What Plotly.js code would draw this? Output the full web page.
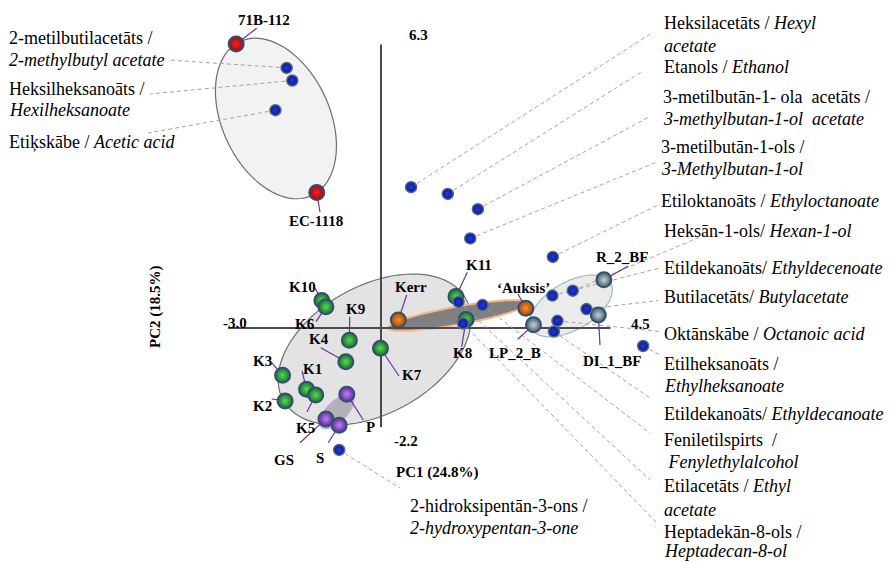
<!DOCTYPE html>
<html>
<head>
<meta charset="utf-8">
<script src="https://cdn.plot.ly/plotly-3.0.1.min.js"></script>
<style>
  html, body { margin: 0; padding: 0; background: #fff; }
  #chart { width: 891px; height: 563px; }
</style>
</head>
<body>
<div id="chart"></div>
<script>
// ---- Volatile compound loadings (PC1, PC2) ----
const compoundLabels = [
  ["2-metilbutilacetāts /", "<i>2-methylbutyl acetate</i>"],
  ["Heksilheksanoāts /", "<i>Hexilheksanoate</i>"],
  ["Etiķskābe / <i>Acetic acid</i>"],
  ["Heksilacetāts / <i>Hexyl</i>", "<i>acetate</i>"],
  ["Etanols / <i>Ethanol</i>"],
  ["3-metilbutān-1- ola  acetāts /", "<i>3-methylbutan-1-ol  acetate</i>"],
  ["3-metilbutān-1-ols /", "<i>3-Methylbutan-1-ol</i>"],
  ["Etiloktanoāts / <i>Ethyloctanoate</i>"],
  ["Heksān-1-ols/ <i>Hexan-1-ol</i>"],
  ["Etildekanoāts/ <i>Ethyldecenoate</i>"],
  ["Butilacetāts/ <i>Butylacetate</i>"],
  ["Oktānskābe / <i>Octanoic acid</i>"],
  ["Etilheksanoāts /", "<i>Ethylheksanoate</i>"],
  ["Etildekanoāts/ <i>Ethyldecanoate</i>"],
  ["Feniletilspirts  /", " <i>Fenylethylalcohol</i>"],
  ["Etilacetāts / <i>Ethyl</i>", "<i>acetate</i>"],
  ["Heptadekān-8-ols /", "<i>Heptadecan-8-ol</i>"],
  ["2-hidroksipentān-3-ons /", "<i>2-hydroxypentan-3-one</i>"]
];
const compoundPC1 = [-1.85, -1.74, -2.07, 0.59, 1.31, 1.90, 1.75, 3.37, 3.76, 3.36, 4.03, 3.46, 5.14, 3.39, 1.99, 1.52, 1.61, -0.82];
const compoundPC2 = [ 5.78,  5.50,  4.84, 3.13, 2.98, 2.64, 1.99, 1.58, 0.83, 0.72, 0.42, 0.16, -0.40, -0.08, 0.51, 0.58, 0.10, -2.71];

// ---- Wine samples (scores) ----
const sampleNames  = ["71B-112", "EC-1118", "K10", "K6", "K9", "K4", "K7", "K3", "K1", "K2", "K5", "K11", "K8", "Kerr", "‘Auksis’", "R_2_BF", "DI_1_BF", "LP_2_B", "P", "GS", "S"];
const samplePC1    = [-2.84, -1.26, -1.16, -1.08, -0.62, -0.69, -0.01, -1.93, -1.46, -1.88, -1.28, 1.47, 1.67, 0.34, 2.84, 4.37, 4.26, 2.99, -0.67, -1.08, -0.82];
const samplePC2    = [ 6.31,  3.01,  0.61,  0.47, -0.27, -0.75, -0.45, -1.05, -1.36, -1.62, -1.49, 0.70, 0.19, 0.18, 0.44, 1.07, 0.29, 0.07, -1.47, -2.02, -2.16];
const sampleGroups = ["yeast", "yeast", "K", "K", "K", "K", "K", "K", "K", "K", "K", "K", "K", "ref", "ref", "bf", "bf", "bf", "pgs", "pgs", "pgs"];

const explainedVariance = [24.8, 18.5];
const pc1Extent = [-3.0, 4.5];
const pc2Extent = [-2.2, 6.3];

// ---- page geometry: pixel frame used to place text ----
const FRAME = { w: 891, h: 563, ox: 381, oy: 328, sx: 51, sy: 45 };
const xAt = p => (p - FRAME.ox) / FRAME.sx;
const yAt = p => (FRAME.oy - p) / FRAME.sy;

// label placement for compounds: left edge, line centres, end of dashed leader (pixels)
const compoundLabelPlace = [
  { x: 8,   ys: [38, 60],       end: [168, 60] },
  { x: 8,   ys: [89, 110],      end: [150, 94] },
  { x: 8,   ys: [142],          end: [148, 133] },
  { x: 663, ys: [23, 45.5],     end: [652, 33] },
  { x: 663, ys: [67],           end: [643, 71] },
  { x: 662, ys: [97, 119],      end: [650, 116.5] },
  { x: 660, ys: [147, 169],     end: [658, 161.5] },
  { x: 660, ys: [201],          end: [658, 205] },
  { x: 663, ys: [230.5],        end: [700, 237] },
  { x: 663, ys: [267.5],        end: [660, 268] },
  { x: 663, ys: [297],          end: [658, 300.5] },
  { x: 663, ys: [334],          end: [660, 331.5] },
  { x: 663, ys: [363.5, 385.5], end: [662, 356] },
  { x: 663, ys: [413.5],        end: [650, 398] },
  { x: 663, ys: [440, 462],     end: [650, 433] },
  { x: 663, ys: [485.5, 510],   end: [650, 480] },
  { x: 663, ys: [531.5, 550.5], end: [657, 523] },
  { x: 409, ys: [506, 528],     end: [400, 488] }
];

// label placement for samples: text centre and start of the purple leader (pixels)
const sampleLabelPlace = {
  "71B-112":  { at: [264, 20],  from: [256.7, 28.3] },
  "EC-1118":  { at: [316, 221], from: [320, 212] },
  "K10":      { at: [302, 287], from: [315, 288] },
  "K6":       { at: [305, 324], from: [316, 321.7] },
  "K9":       { at: [355, 309], from: [349.7, 316.7] },
  "K4":       { at: [319, 339], from: [320.7, 347.7] },
  "K7":       { at: [412, 375], from: [399, 376] },
  "K3":       { at: [262, 361], from: [271.7, 362.7] },
  "K1":       { at: [312, 369], from: [302, 371] },
  "K2":       { at: [262, 406], from: [271.7, 399] },
  "K5":       { at: [305, 428], from: [307, 411.7] },
  "K11":      { at: [479, 265], from: [467.3, 272.3] },
  "K8":       { at: [462, 353], from: [461.7, 346.7] },
  "Kerr":     { at: [411, 287], from: [406.7, 295] },
  "‘Auksis’": { at: [523, 288], from: [518, 294] },
  "R_2_BF":   { at: [622, 257], from: [628.3, 266] },
  "DI_1_BF":  { at: [612, 361], from: [600, 345] },
  "LP_2_B":   { at: [515, 353], from: [517.7, 339.3] },
  "P":        { at: [370, 427], from: [363.3, 420] },
  "GS":       { at: [284, 460], from: [300, 442.7] },
  "S":        { at: [320, 458], from: [328.3, 442.7] }
};

// sphere look: bright core (radial gradient centre) fading to a dark edge
const groupStyle = {
  yeast: { core: "#ff2020", edge: "#8a1018" },
  K:     { core: "#4ee04e", edge: "#1e6a34" },
  ref:   { core: "#ff9020", edge: "#9a4c10" },
  bf:    { core: "#c4d2d6", edge: "#44606c" },
  pgs:   { core: "#c080ff", edge: "#5c2c94" }
};

// confidence ellipses: centre plus two conjugate semi-axis vectors, in PC units
const ellipses = [
  { c: [-2.06, 4.656], u: [0.704, -1.711], v: [0.955, 0.504],  fill: "#f2f2f2", line: "#6f6f6f", w: 1.2 },
  { c: [-0.127, -0.478], u: [1.790, 1.129], v: [0.610, -1.240], fill: "#e3e3e3", line: "#6f6f6f", w: 1.2 },
  { c: [3.729, 0.491], u: [0.773, 0.513],  v: [0.235, -0.456], fill: "#ebebeb", line: "#9cbcc2", w: 1.2 },
  { c: [1.510, 0.278], u: [1.373, 0.278],  v: [0.031, -0.197], fill: "#808080", line: "#f4b88c", w: 2 },
  { c: [-0.869, -1.86], u: [0.300, 0.340], v: [0.137, -0.156], fill: "#b2b2b2", line: "#c8a2e8", w: 1.5 }
];

function ellipsePath(e) {
  let d = "";
  for (let i = 0; i <= 90; i++) {
    const t = (i / 90) * 2 * Math.PI;
    const x = e.c[0] + e.u[0] * Math.cos(t) + e.v[0] * Math.sin(t);
    const y = e.c[1] + e.u[1] * Math.cos(t) + e.v[1] * Math.sin(t);
    d += (i === 0 ? "M" : "L") + x.toFixed(4) + "," + y.toFixed(4);
  }
  return d + "Z";
}

const shapes = [];
ellipses.forEach(e => shapes.push({
  type: "path", xref: "x", yref: "y", layer: "below",
  path: ellipsePath(e), fillcolor: e.fill, line: { color: e.line, width: e.w }
}));

// principal component axes
shapes.push({ type: "line", xref: "x", yref: "y", layer: "below",
  x0: pc1Extent[0], x1: pc1Extent[1], y0: 0, y1: 0, line: { color: "#4a4a4a", width: 2 } });
shapes.push({ type: "line", xref: "x", yref: "y", layer: "below",
  x0: 0, x1: 0, y0: pc2Extent[0], y1: pc2Extent[1], line: { color: "#4a4a4a", width: 2 } });

// dashed leaders from compound points to their names
compoundPC1.forEach((x, i) => {
  const p = compoundLabelPlace[i];
  shapes.push({ type: "line", xref: "x", yref: "y", layer: "below",
    x0: x, y0: compoundPC2[i], x1: xAt(p.end[0]), y1: yAt(p.end[1]),
    line: { color: "#a4a4a4", width: 1, dash: "4px,3px" } });
});

// purple leaders from sample names to sample points
sampleNames.forEach((n, i) => {
  const p = sampleLabelPlace[n];
  shapes.push({ type: "line", xref: "x", yref: "y", layer: "below",
    x0: xAt(p.from[0]), y0: yAt(p.from[1]), x1: samplePC1[i], y1: samplePC2[i],
    line: { color: "#7030a0", width: 1.2 } });
});

const annotations = [];
const serif = "Liberation Serif, Times New Roman, serif";

compoundLabels.forEach((lines, i) => {
  const p = compoundLabelPlace[i];
  lines.forEach((txt, k) => annotations.push({
    xref: "x", yref: "y", x: xAt(p.x), y: yAt(p.ys[k]), text: txt,
    showarrow: false, xanchor: "left", yanchor: "middle", borderpad: 0,
    font: { family: serif, size: 18, color: "#000" }
  }));
});

sampleNames.forEach(n => {
  const p = sampleLabelPlace[n];
  annotations.push({
    xref: "x", yref: "y", x: xAt(p.at[0]), y: yAt(p.at[1]), text: "<b>" + n + "</b>",
    showarrow: false, xanchor: "center", yanchor: "middle", borderpad: 0,
    font: { family: serif, size: 15, color: "#000" }
  });
});

// axis extent values and axis titles
const bold15 = { family: serif, size: 15, color: "#000" };
annotations.push({ xref: "x", yref: "y", x: xAt(418), y: yAt(35), text: "<b>" + pc2Extent[1].toFixed(1) + "</b>", showarrow: false, font: bold15 });
annotations.push({ xref: "x", yref: "y", x: xAt(406), y: yAt(441), text: "<b>" + pc2Extent[0].toFixed(1) + "</b>", showarrow: false, font: bold15 });
annotations.push({ xref: "x", yref: "y", x: xAt(235), y: yAt(323), text: "<b>" + pc1Extent[0].toFixed(1) + "</b>", showarrow: false, font: bold15 });
annotations.push({ xref: "x", yref: "y", x: xAt(640), y: yAt(324), text: "<b>" + pc1Extent[1].toFixed(1) + "</b>", showarrow: false, font: bold15 });
annotations.push({ xref: "x", yref: "y", x: xAt(437), y: yAt(472), text: "<b>PC1 (" + explainedVariance[0] + "%)</b>", showarrow: false, font: bold15 });
annotations.push({ xref: "x", yref: "y", x: xAt(155), y: yAt(307), text: "<b>PC2 (" + explainedVariance[1] + "%)</b>", showarrow: false, textangle: -90, font: bold15 });

// marker traces: samples first, compounds on top
const traces = [];
Object.keys(groupStyle).forEach(g => {
  const idx = sampleGroups.map((v, i) => v === g ? i : -1).filter(i => i >= 0);
  traces.push({
    type: "scatter", mode: "markers", name: g,
    x: idx.map(i => samplePC1[i]), y: idx.map(i => samplePC2[i]),
    text: idx.map(i => sampleNames[i]), hoverinfo: "text",
    marker: {
      size: 15, color: groupStyle[g].edge,
      gradient: { type: "radial", color: groupStyle[g].core },
      line: { color: "#34506e", width: 2 }
    }
  });
});
traces.push({
  type: "scatter", mode: "markers", name: "compounds",
  x: compoundPC1, y: compoundPC2,
  text: compoundLabels.map(l => l.join(" ")), hoverinfo: "text",
  marker: {
    size: 11, color: "#101c70",
    gradient: { type: "radial", color: "#1e34ff" },
    line: { color: "#4f6a88", width: 1.5 }
  }
});

const layout = {
  width: FRAME.w, height: FRAME.h,
  margin: { l: 0, r: 0, t: 0, b: 0 },
  paper_bgcolor: "#fff", plot_bgcolor: "#fff",
  showlegend: false,
  font: { family: serif },
  xaxis: { range: [xAt(0), xAt(FRAME.w)], visible: false, fixedrange: true },
  yaxis: { range: [yAt(FRAME.h), yAt(0)], visible: false, fixedrange: true },
  shapes: shapes,
  annotations: annotations
};

Plotly.newPlot("chart", traces, layout, { staticPlot: true, displayModeBar: false });
</script>
</body>
</html>
